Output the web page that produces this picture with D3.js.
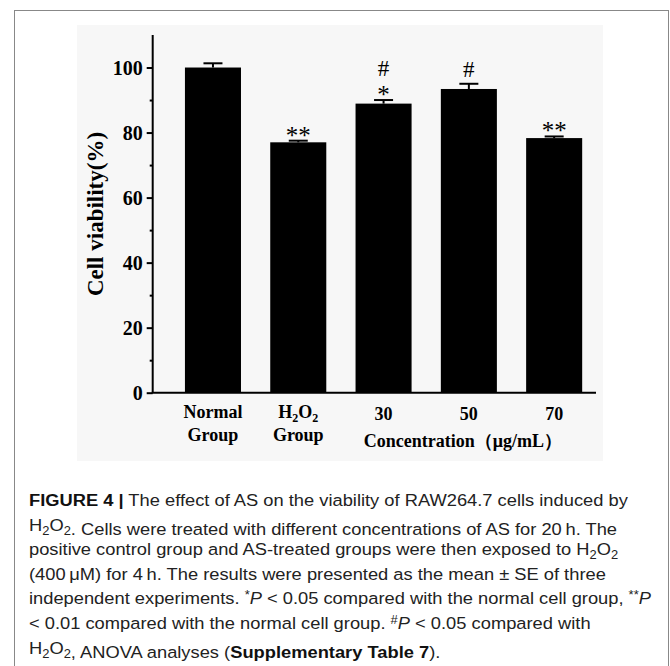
<!DOCTYPE html>
<html lang="en">
<head>
<meta charset="UTF-8">
<title>Figure 4</title>
<script src="https://d3js.org/d3.v7.min.js"></script>
<style>
  * { margin: 0; padding: 0; }
  body { background: #fff; }
  .chart text { font-family: "Liberation Serif", "Times New Roman", serif; fill: #000; }
  .cap text { font-family: "Liberation Sans", Arial, sans-serif; font-size: 17px; fill: #222; }
</style>
</head>
<body>
<script>
// data
var categories = ["Normal", "H2O2", "30", "50", "70"];
var labelLines = [["Normal", "Group"], ["H2O2", "Group"], ["30"], ["50"], ["70"]];
var means = [100, 77.0, 88.9, 93.4, 78.3];
var errors = [1.3, 0.5, 1.1, 1.6, 0.5];
var sigStar = ["", "**", "*", "", "**"];
var sigHash = ["", "", "#", "#", ""];
var yTicks = [0, 20, 40, 60, 80, 100];
var yMinor = [10, 30, 50, 70, 90];

var W = 670, H = 666;
var svg = d3.select("body").append("svg")
    .attr("width", W)
    .attr("height", H);

// frame around figure + caption
svg.append("rect")
    .attr("x", 14.5).attr("y", 10.5)
    .attr("width", 654).attr("height", 680)
    .attr("fill", "none")
    .attr("stroke", "#888")
    .attr("stroke-width", 1);

// slightly grey image background
svg.append("rect")
    .attr("x", 77).attr("y", 25)
    .attr("width", 526).attr("height", 436)
    .attr("fill", "#f7f7f7");

var g = svg.append("g").attr("class", "chart");

var x0 = 152.7, x1 = 596, yBase = 392.7, yTop = 35;

var x = d3.scaleBand()
    .domain(categories)
    .range([x0, x1])
    .paddingInner(0.343)
    .paddingOuter(0.27)
    .align(0.7);

var y = d3.scaleLinear()
    .domain([0, 110])
    .range([yBase, yTop]);

// bars
g.selectAll(".bar")
    .data(categories)
    .enter()
    .append("rect")
    .attr("class", "bar")
    .attr("x", function (d) { return x(d); })
    .attr("y", function (d, i) { return y(means[i]); })
    .attr("width", x.bandwidth())
    .attr("height", function (d, i) { return yBase - y(means[i]); })
    .attr("fill", "#000");

// error bars (upper half only)
var eb = g.selectAll(".err")
    .data(categories)
    .enter()
    .append("g")
    .attr("class", "err");
eb.append("line")
    .attr("x1", function (d) { return x(d) + x.bandwidth() / 2; })
    .attr("x2", function (d) { return x(d) + x.bandwidth() / 2; })
    .attr("y1", function (d, i) { return y(means[i]); })
    .attr("y2", function (d, i) { return y(means[i] + errors[i]); })
    .attr("stroke", "#000").attr("stroke-width", 2);
eb.append("line")
    .attr("x1", function (d) { return x(d) + x.bandwidth() / 2 - 9.5; })
    .attr("x2", function (d) { return x(d) + x.bandwidth() / 2 + 9.5; })
    .attr("y1", function (d, i) { return y(means[i] + errors[i]); })
    .attr("y2", function (d, i) { return y(means[i] + errors[i]); })
    .attr("stroke", "#000").attr("stroke-width", 2);

// significance marks: one text per bar, # stacked above *
var sig = g.selectAll(".sig")
    .data(categories)
    .enter()
    .append("text")
    .attr("class", "sig")
    .attr("text-anchor", "middle");
sig.each(function (d, i) {
    var t = d3.select(this);
    var cx = x(d) + x.bandwidth() / 2;
    var top = y(means[i] + errors[i]);
    if (sigHash[i]) {
        t.append("tspan")
            .attr("x", cx)
            .attr("y", top - (sigStar[i] ? 24.5 : 7))
            .attr("font-size", "23px")
            .text(sigHash[i]);
    }
    if (sigStar[i]) {
        t.append("tspan")
            .attr("x", cx)
            .attr("y", top + 3)
            .attr("font-size", "25px")
            .text(sigStar[i]);
    }
});

// y axis
var yAxis = d3.axisLeft(y)
    .tickValues(yTicks)
    .tickSize(6)
    .tickPadding(4)
    .tickFormat(d3.format("d"));
var ya = g.append("g")
    .attr("transform", "translate(" + x0 + ",0)")
    .call(yAxis);
ya.select(".domain").attr("stroke-width", 2).attr("d", "M0," + yBase + "V" + yTop);
ya.selectAll(".tick line").attr("stroke-width", 2);
ya.selectAll(".tick text")
    .attr("font-size", "20px")
    .attr("font-weight", "bold")
    .attr("font-family", "'Liberation Serif', 'Times New Roman', serif")
    .attr("fill", "#000")
    .attr("dy", "0.34em");

var yMinorAxis = d3.axisLeft(y)
    .tickValues(yMinor)
    .tickSize(3)
    .tickFormat("");
var ym = g.append("g")
    .attr("transform", "translate(" + x0 + ",0)")
    .call(yMinorAxis);
ym.select(".domain").remove();
ym.selectAll(".tick line").attr("stroke-width", 2);

// x axis line
g.append("line")
    .attr("x1", x0 - 1).attr("x2", x1)
    .attr("y1", yBase).attr("y2", yBase)
    .attr("stroke", "#000").attr("stroke-width", 2);

// x tick labels
var xl = g.selectAll(".xlab")
    .data(categories)
    .enter()
    .append("text")
    .attr("class", "xlab")
    .attr("text-anchor", "middle")
    .attr("font-size", "18px")
    .attr("font-weight", "bold");
xl.each(function (d, i) {
    var t = d3.select(this);
    var cx = x(d) + x.bandwidth() / 2;
    labelLines[i].forEach(function (line, j) {
        var ts = t.append("tspan")
            .attr("x", cx)
            .attr("y", labelLines[i].length > 1 ? 418 + j * 23 : 420);
        if (line === "H2O2") {
            ts.append("tspan").text("H");
            ts.append("tspan").attr("font-size", "12px").attr("dy", 4).text("2");
            ts.append("tspan").attr("dy", -4).text("O");
            ts.append("tspan").attr("font-size", "12px").attr("dy", 4).text("2");
        } else {
            ts.text(line);
        }
    });
});

g.append("text")
    .attr("x", x("50") + x.bandwidth() / 2 - 6)
    .attr("y", 447)
    .attr("text-anchor", "middle")
    .attr("font-size", "18px")
    .attr("font-weight", "bold")
    .text("Concentration（μg/mL）");

// y label
g.append("text")
    .attr("transform", "translate(103,214) rotate(-90)")
    .attr("text-anchor", "middle")
    .attr("font-size", "23px")
    .attr("font-weight", "bold")
    .text("Cell viability(%)");

// caption
var cap = svg.append("g").attr("class", "cap");
var capX = 29, capY0 = 506, capDy = 24.6;
var lines = [];

function h2o2(t) {
    t.append("tspan").text("H");
    t.append("tspan").attr("font-size", "12px").attr("dy", 4).text("2");
    t.append("tspan").attr("dy", -4).text("O");
    t.append("tspan").attr("font-size", "12px").attr("dy", 4).text("2");
    t.append("tspan").attr("dy", -4).text("");
}
function line(k) {
    var t = cap.append("text").attr("x", capX).attr("y", capY0 + k * capDy);
    lines.push(t);
    return t;
}

var l1 = line(0);
l1.append("tspan").attr("font-weight", "bold").attr("fill", "#111").text("FIGURE 4 |");
l1.append("tspan").text(" The effect of AS on the viability of RAW264.7 cells induced by");

var l2 = line(1);
h2o2(l2);
l2.append("tspan").text(". Cells were treated with different concentrations of AS for 20\u2009h. The");

var l3 = line(2);
l3.append("tspan").text("positive control group and AS-treated groups were then exposed to ");
h2o2(l3);

line(3).text("(400\u2009\u03bcM) for 4\u2009h. The results were presented as the mean \u00b1 SE of three");

var l5 = line(4);
l5.append("tspan").text("independent experiments. ");
l5.append("tspan").attr("font-size", "12px").attr("dy", -5).text("*");
l5.append("tspan").attr("dy", 5).attr("font-style", "italic").text("P");
l5.append("tspan").text(" < 0.05 compared with the normal cell group, ");
l5.append("tspan").attr("font-size", "12px").attr("dy", -5).text("**");
l5.append("tspan").attr("dy", 5).attr("font-style", "italic").text("P");

var l6 = line(5);
l6.append("tspan").text("< 0.01 compared with the normal cell group. ");
l6.append("tspan").attr("font-size", "12px").attr("dy", -5).text("#");
l6.append("tspan").attr("dy", 5).attr("font-style", "italic").text("P");
l6.append("tspan").text(" < 0.05 compared with");

var l7 = line(6);
h2o2(l7);
l7.append("tspan").text(", ANOVA analyses (");
l7.append("tspan").attr("font-weight", "bold").attr("fill", "#111").text("Supplementary Table 7");
l7.append("tspan").text(").");

// the caption face in the figure is a bit wider than Arial: stretch to fit line 5
var w5 = l5.node().getBBox().width;
var sx = 623 / w5;
lines.forEach(function (t) {
    t.attr("transform", "translate(" + capX + ",0) scale(" + sx + ",1) translate(" + (-capX) + ",0)");
});
</script>
</body>
</html>
